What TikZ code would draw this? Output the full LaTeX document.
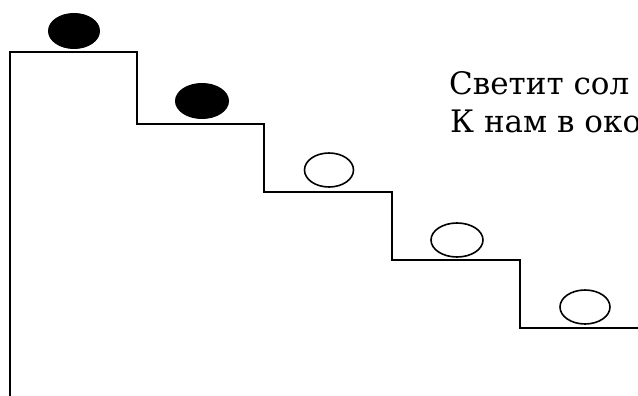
\documentclass[tikz,border=0pt]{standalone}
\usepackage{fontspec}
\setmainfont{DejaVu Serif}
\begin{document}
\begin{tikzpicture}[x=1pt,y=-1pt,
  stair/.style={draw=black,line width=2.8pt,line join=miter},
  fullball/.style={fill=black,draw=black,line width=1pt},
  emptyball/.style={fill=white,draw=black,line width=1.6pt},
  verse/.style={anchor=base west,inner sep=0pt,font=\fontsize{31}{36}\selectfont}]
\useasboundingbox (0,0) rectangle (638,396);
\draw[stair] (10,397) -- (10,52) -- (137,52) -- (137,124) -- (264,124) -- (264,192)
  -- (392,192) -- (392,260) -- (520,260) -- (520,328) -- (640,328);
\draw[fullball] (74,31) ellipse [x radius=25.5,y radius=17.5];
\draw[fullball] (202,101) ellipse [x radius=26.5,y radius=17.5];
\draw[emptyball] (329,170) ellipse [x radius=24.5,y radius=17];
\draw[emptyball] (457,240) ellipse [x radius=26,y radius=17];
\draw[emptyball] (585,307) ellipse [x radius=25,y radius=17];
\node[verse] (l1) at (449,95) {Светит сол};
\node[verse] (l2) at (450,132) {К нам в око};
\end{tikzpicture}
\end{document}
